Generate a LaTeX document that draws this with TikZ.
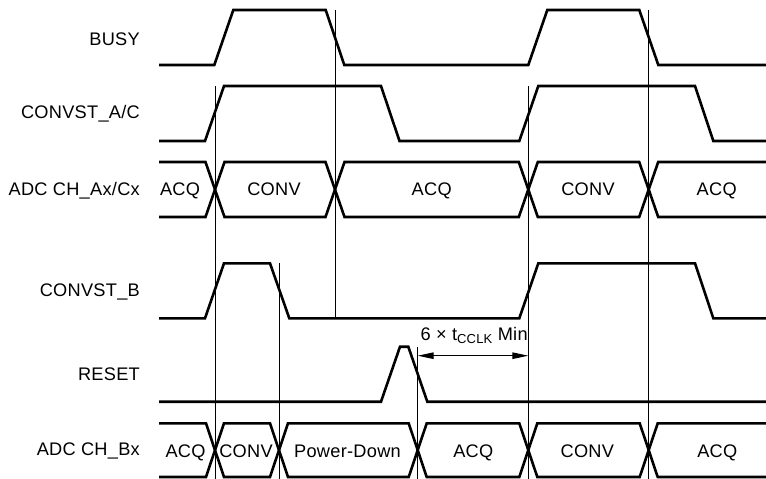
\documentclass[tikz,border=0pt]{standalone}
\usepackage{fontspec}
\setmainfont{Liberation Sans}[LetterSpace=1.5]
\usetikzlibrary{arrows.meta}
\begin{document}
\begin{tikzpicture}[x=1pt,y=-1pt,
  sig/.style={line width=2.6pt,black},
  guide/.style={line width=0.8pt,black},
  dim/.style={line width=1.1pt,black,{Triangle[length=16pt,width=6.5pt]}-{Triangle[length=16pt,width=6.5pt]}},
  lbl/.style={anchor=base east,inner sep=0pt,font=\fontsize{18.2}{21}\selectfont},
  bustxt/.style={anchor=base,inner sep=0pt,font=\fontsize{18.2}{21}\selectfont}]
\useasboundingbox (0,0) rectangle (766,479);

% signal labels
\node[lbl] (lbusy) at (140,45.7) {BUSY};
\node[lbl] (lconva) at (140,118.3) {CONVST\_A/C};
\node[lbl] (ladca) at (140,195) {ADC CH\_Ax/Cx};
\node[lbl] (lconvb) at (140,296) {CONVST\_B};
\node[lbl] (lreset) at (140,380) {RESET};
\node[lbl] (ladcb) at (140,455.5) {ADC CH\_Bx};

% guide lines
\draw[guide] (215,86) -- (215,479);
\draw[guide] (279,263) -- (279,479);
\draw[guide] (335,10) -- (335,318);
\draw[guide] (417.7,347) -- (417.7,479);
\draw[guide] (528.3,86) -- (528.3,479);
\draw[guide] (648.7,10) -- (648.7,479);

% BUSY
\draw[sig] (159,65) -- (214.3,65) -- (233.3,10) -- (325.7,10) -- (344.3,65)
  -- (528.3,65) -- (547.3,10) -- (639.3,10) -- (658.3,65) -- (766,65);
% CONVST_A/C
\draw[sig] (159,141) -- (205,141) -- (224,86) -- (381,86) -- (399.5,141)
  -- (519.3,141) -- (538.3,86) -- (695,86) -- (713.3,141) -- (766,141);
% ADC CH_Ax/Cx bus
\draw[sig] (159,162) -- (205.5,162) -- (224.5,217) -- (325.5,217) -- (344.5,162)
  -- (518.8,162) -- (537.8,217) -- (639.2,217) -- (658.2,162) -- (766,162);
\draw[sig] (159,217) -- (205.5,217) -- (224.5,162) -- (325.5,162) -- (344.5,217)
  -- (518.8,217) -- (537.8,162) -- (639.2,162) -- (658.2,217) -- (766,217);
\node[bustxt] (a1) at (180,195.5) {ACQ};
\node[bustxt] (a2) at (274,195.5) {CONV};
\node[bustxt] (a3) at (431.7,195.5) {ACQ};
\node[bustxt] (a4) at (588,195.5) {CONV};
\node[bustxt] (a5) at (716.7,195.5) {ACQ};

% CONVST_B
\draw[sig] (159,318.3) -- (205,318.3) -- (224,263.3) -- (270,263.3) -- (289.3,318.3)
  -- (519.3,318.3) -- (538.3,263.3) -- (695,263.3) -- (713.3,318.3) -- (766,318.3);
% RESET
\draw[sig] (159,401.7) -- (381,401.7) -- (400,346.7) -- (408.3,346.7) -- (427.3,401.7) -- (766,401.7);

% ADC CH_Bx bus
\draw[sig] (159,423.3) -- (206,423.3) -- (224,477) -- (270,477) -- (288,423.3)
  -- (408.7,423.3) -- (426.7,477) -- (519.3,477) -- (537.3,423.3) -- (639.7,423.3)
  -- (657.7,477) -- (766,477);
\draw[sig] (159,477) -- (206,477) -- (224,423.3) -- (270,423.3) -- (288,477)
  -- (408.7,477) -- (426.7,423.3) -- (519.3,423.3) -- (537.3,477) -- (639.7,477)
  -- (657.7,423.3) -- (766,423.3);
\node[bustxt] (b1) at (185.5,457.3) {ACQ};
\node[bustxt] (b2) at (246,457.3) {CONV};
\node[bustxt] (b3) at (347.5,457.3) {Power-Down};
\node[bustxt] (b4) at (473.3,457.3) {ACQ};
\node[bustxt] (b5) at (587.3,457.3) {CONV};
\node[bustxt] (b6) at (717.3,457.3) {ACQ};

% timing dimension
\coordinate (dl) at (417.7,355.7);
\coordinate (dr) at (528.3,355.7);
\draw[dim] (dl) -- (dr);
\node[anchor=base west,inner sep=0pt,font=\fontsize{18.2}{21}\selectfont] (tlab) at (420.5,340.7)
  {6 × t\raisebox{-3pt}{\fontsize{13}{15}\selectfont CCLK} Min};
\end{tikzpicture}
\end{document}
